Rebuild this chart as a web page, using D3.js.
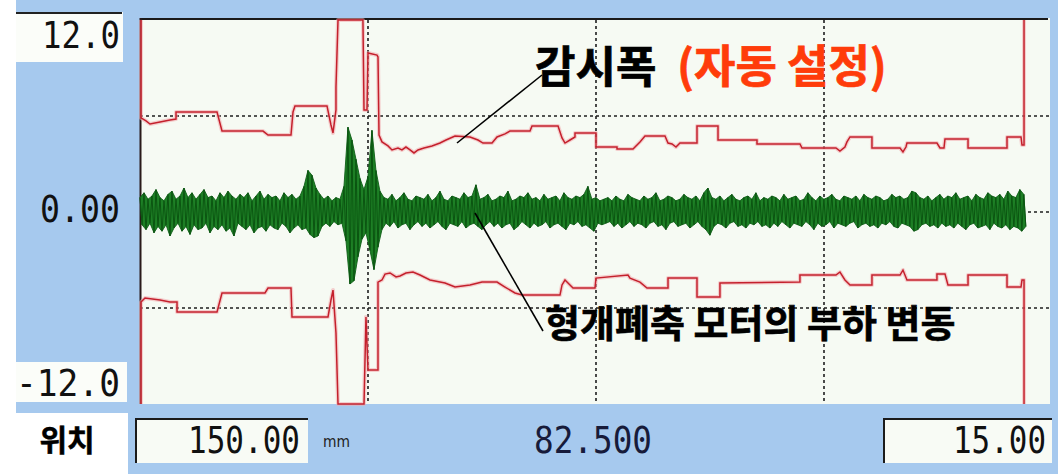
<!DOCTYPE html>
<html>
<head>
<meta charset="utf-8">
<script src="https://cdn.jsdelivr.net/npm/d3@7"></script>
<style>
  html, body { margin: 0; padding: 0; background: #ffffff; }
  svg { display: block; }
</style>
</head>
<body>
<svg id="chart" width="1058" height="474"></svg>
<script>
// Position axis (mm): 150 at the left edge, 15 at the right edge
const positionDomain = [150, 15];
const loadDomain = [-12, 12];

// Tick labels
const yTickValues = [12, 0, -12];
const yTickLabels = ["12.0", "0.00", "-12.0"];
const xTickLabels = ["150.00", "82.500", "15.00"];
const xUnit = "mm";

// Grid lines
const xGridValues = [116.25, 82.5, 48.75];
const yGridValues = [6, 0, -6];

// Upper monitoring band [position mm, load]
const upperBand = [
  [149.85,12],[149.85,5.88],[149.11,5.69],[148.52,5.5],[147.04,5.63],[145.56,5.75],[144.67,5.81],
  [144.67,6.25],[138.60,6.25],[137.86,5.06],[131.79,5.06],[131.05,4.81],[127.65,4.81],[127.35,6.25],
  [127.06,6.63],[122.32,6.63],[121.73,5.44],[121.43,4.94],[120.99,6.38],[120.99,7.81],[120.69,12],
  [117.00,12],[116.84,6.38],[116.40,6.38],[116.25,9.94],[114.92,9.81],[114.77,9.69],[114.62,4.81],
  [114.18,4.38],[113.29,4.13],[112.70,3.88],[111.81,4.0],[111.22,3.88],[110.63,4.06],[110.03,3.88],
  [109.44,3.69],[108.85,3.88],[107.96,4.0],[106.78,4.13],[105.59,4.31],[104.70,4.5],[103.37,4.75],
  [101.15,4.69],[99.97,4.5],[99.23,4.31],[97.89,4.31],[97.15,4.69],[95.97,4.88],[95.23,5.06],
  [92.27,5.06],[91.97,5.38],[88.12,5.38],[87.53,4.63],[87.09,4.31],[86.35,4.5],[85.61,4.69],
  [85.61,4.94],[82.50,4.94],[82.50,4.06],[79.39,4.06],[79.39,3.94],[77.02,3.94],[75.99,4.38],
  [75.25,4.75],[72.29,4.75],[71.84,4.31],[71.25,4.25],[70.66,4.06],[70.07,4.31],[67.55,4.31],
  [67.55,5.38],[64.44,5.38],[64.44,4.5],[58.67,4.5],[58.67,4.25],[52.31,4.25],[52.01,4.0],
  [46.98,4.0],[46.39,3.81],[45.65,4.06],[45.35,4.38],[44.90,4.69],[41.65,4.69],[41.65,4.0],
  [37.50,4.0],[37.06,3.75],[36.62,4.06],[36.47,4.31],[32.03,4.31],[31.58,4.0],[30.99,4.0],
  [30.84,4.56],[27.43,4.56],[27.43,4.0],[21.66,4.0],[21.66,4.69],[19.59,4.69],[19.44,4.19],
  [19.14,4.19],[19.14,12]
];

// Lower monitoring band [position mm, load]
const lowerBand = [
  [149.85,-12],[149.85,-5.63],[149.26,-5.38],[147.04,-5.5],[145.56,-5.63],[144.52,-5.63],
  [144.52,-6.25],[138.60,-6.25],[137.86,-5.06],[131.50,-5.06],[131.05,-4.75],[127.65,-4.75],
  [127.50,-6.56],[122.17,-6.56],[121.73,-5.5],[121.43,-4.88],[120.99,-7.56],[120.69,-12],
  [116.84,-12],[116.55,-6.56],[116.25,-9.88],[114.77,-9.88],[114.77,-4.38],[114.18,-4.25],
  [113.73,-3.88],[112.99,-3.81],[112.10,-4.06],[111.51,-4.0],[110.63,-3.81],[109.59,-3.75],
  [108.55,-3.94],[107.07,-4.25],[104.85,-4.44],[103.37,-4.69],[101.15,-4.56],[99.38,-4.38],
  [97.15,-4.38],[95.97,-4.69],[94.49,-5.06],[93.45,-5.19],[87.83,-5.19],[87.53,-4.56],
  [87.09,-4.25],[86.35,-4.56],[85.90,-4.75],[82.65,-4.75],[82.50,-4.13],[77.76,-3.94],
  [77.47,-4.13],[75.99,-4.38],[74.95,-4.75],[71.84,-4.75],[71.84,-4.13],[67.55,-4.13],
  [67.55,-5.31],[64.15,-5.31],[64.15,-4.44],[52.31,-4.38],[52.31,-3.94],[46.98,-3.94],
  [46.39,-3.75],[45.65,-4.25],[44.90,-4.56],[41.65,-4.56],[41.65,-3.94],[37.50,-3.94],
  [37.06,-3.63],[36.47,-4.25],[32.03,-4.25],[32.03,-3.88],[30.84,-3.88],[30.40,-4.56],
  [27.43,-4.56],[27.43,-3.94],[21.66,-3.94],[21.66,-4.69],[19.59,-4.69],[19.44,-4.25],
  [19.14,-4.25],[19.14,-12]
];

// Motor load trace: successive peaks and troughs, one pair per sampling pitch
const traceStartMm = 150;
const tracePitchMm = 0.592;
const tracePeaks = [
  0.9,1.2,0.8,1.0,1.4,0.9,0.7,1.1,1.3,0.8,
  1.0,1.5,0.9,1.2,0.8,1.1,1.4,0.9,1.0,0.7,
  1.2,0.9,1.3,1.0,0.8,1.1,0.9,1.2,0.7,1.0,
  1.3,0.8,1.1,0.9,1.0,0.7,1.2,0.9,1.1,0.8,
  1.0,1.6,2.6,2.3,1.5,1.1,0.8,1.0,0.7,0.9,
  0.8,1.6,5.3,4.5,3.3,2.1,1.4,2.2,5.1,2.6,
  1.3,
  0.9,0.8,1.1,0.7,0.9,1.2,0.8,0.7,1.0,0.9,
  0.8,1.1,0.7,0.9,1.3,0.8,0.7,1.0,0.9,0.8,
  1.2,0.9,1.0,1.7,0.8,0.9,1.1,0.7,0.8,1.0,
  0.9,1.3,0.7,0.8,1.0,0.9,1.2,0.8,0.9,0.7,
  1.1,0.8,0.9,1.0,0.7,1.2,0.9,0.8,1.0,0.9,
  1.1,1.6,0.8,0.9,0.7,
  0.8,0.9,0.7,1.0,0.8,0.7,1.1,0.9,0.8,0.7,
  1.0,0.8,0.9,1.2,0.7,0.8,1.0,0.9,0.7,0.8,
  1.1,0.9,0.8,1.0,0.7,1.2,1.5,0.9,0.8,1.0,
  0.7,0.9,1.1,0.8,0.7,0.9,1.0,0.8,1.2,0.7,
  0.9,0.8,1.0,0.9,0.7,1.1,0.8,0.9,1.0,0.7,
  0.8,1.2,0.9,0.7,1.0,0.8,0.9,1.1,0.8,0.7,
  1.0,0.9,0.8,1.0,0.7,1.1,0.9,0.8,1.0,0.9,
  0.7,0.8,1.1,0.9,1.0,0.8,0.9,1.3,1.2,0.9,
  0.8,1.0,0.7,0.9,1.1,0.8,1.0,0.9,1.2,0.8,
  0.9,1.0,0.7,1.1,0.9,0.8,1.2,1.0,0.9,1.1,
  0.8,1.3,1.0,0.9,1.4,1.1
];
const traceTroughs = [
  -0.8,-1.1,-0.7,-1.3,-0.9,-1.2,-0.8,-1.5,-1.0,-0.7,
  -1.2,-0.9,-1.4,-0.8,-1.1,-1.0,-0.7,-1.3,-0.9,-1.1,
  -0.8,-1.2,-1.0,-1.5,-0.7,-0.9,-1.1,-0.8,-1.3,-1.0,
  -0.9,-1.2,-0.8,-1.0,-1.1,-0.7,-0.9,-1.3,-1.0,-0.8,
  -1.1,-1.0,-1.4,-1.6,-1.5,-0.9,-0.7,-0.9,-0.6,-0.8,
  -0.7,-1.8,-4.5,-4.3,-2.8,-1.7,-1.3,-2.4,-3.6,-2.2,
  -1.1,
  -0.7,-0.9,-0.6,-1.0,-0.8,-0.7,-1.1,-0.8,-0.6,-0.9,
  -0.7,-1.0,-0.8,-0.6,-0.9,-1.1,-0.7,-0.8,-0.9,-0.6,
  -1.0,-0.8,-0.7,-0.9,-1.1,-0.8,-0.6,-0.9,-0.7,-1.0,
  -0.8,-0.7,-1.1,-0.9,-0.6,-0.8,-1.0,-0.7,-0.9,-0.8,
  -0.6,-1.0,-0.8,-0.7,-0.9,-1.1,-0.7,-0.8,-0.6,-0.9,
  -0.8,-1.0,-1.2,-0.7,-0.8,
  -0.7,-0.6,-0.9,-0.7,-1.0,-0.8,-0.6,-0.9,-0.7,-0.8,
  -1.0,-0.7,-0.6,-0.9,-0.8,-1.1,-0.7,-0.6,-0.9,-0.8,
  -0.7,-1.0,-0.8,-0.6,-0.9,-1.1,-1.45,-0.9,-0.7,-0.8,
  -1.0,-0.7,-0.6,-0.9,-0.8,-1.0,-0.7,-0.8,-0.6,-0.9,
  -0.8,-1.0,-0.7,-0.9,-0.6,-0.8,-1.0,-0.7,-0.8,-0.9,
  -0.6,-0.8,-1.1,-0.7,-0.9,-0.8,-0.6,-1.0,-0.7,-0.8,
  -0.9,-0.7,-0.6,-1.0,-0.8,-0.7,-0.9,-0.8,-1.0,-0.7,
  -0.8,-0.6,-0.9,-1.0,-0.7,-0.8,-0.9,-1.2,-1.1,-0.8,
  -0.7,-0.9,-0.8,-1.0,-0.7,-0.9,-0.8,-1.0,-0.7,-0.9,
  -1.1,-0.8,-0.7,-1.0,-0.9,-0.8,-1.1,-0.7,-0.9,-1.0,
  -0.8,-1.1,-0.9,-1.0,-1.2,-0.9
];

// Callout texts
const bandTitle = "감시폭";
const bandNote = "(자동 설정)";
const traceTitle = "형개폐축 모터의 부하 변동";
const positionLabel = "위치";

const svg = d3.select("#chart");
const W = 1058, H = 474;

const x = d3.scaleLinear().domain(positionDomain).range([140, 1052]);
const y = d3.scaleLinear().domain(loadDomain).range([404, 20]);

// Panel background
svg.append("rect").attr("x", 16).attr("y", 0).attr("width", W - 16).attr("height", H)
  .attr("fill", "#a6c9ee");

// Plot area
svg.append("rect").attr("x", x(150)).attr("y", y(12) - 2)
  .attr("width", x(15) - x(150) - 2).attr("height", y(-12) - y(12) + 2)
  .attr("fill", "#f6faf3");
svg.append("line").attr("x1", x(150)).attr("x2", x(15) - 4)
  .attr("y1", y(12) - 1).attr("y2", y(12) - 1)
  .attr("stroke", "#1a1a1a").attr("stroke-width", 2);
svg.append("line").attr("x1", x(150) + 0.5).attr("x2", x(150) + 0.5)
  .attr("y1", y(12) - 2).attr("y2", y(-12))
  .attr("stroke", "#2a1a1a").attr("stroke-width", 2);

// Grid
const grid = svg.append("g").attr("stroke", "#1e1e1e").attr("stroke-width", 1.6)
  .attr("stroke-dasharray", "3,3");
grid.selectAll("line.h").data(yGridValues).join("line").attr("class", "h")
  .attr("x1", x(150)).attr("x2", x(15) - 2)
  .attr("y1", d => y(d)).attr("y2", d => y(d));
grid.selectAll("line.v").data(xGridValues).join("line").attr("class", "v")
  .attr("x1", d => x(d)).attr("x2", d => x(d))
  .attr("y1", y(12)).attr("y2", y(-12));

// Monitoring band
const bandLine = d3.line().x(d => x(d[0])).y(d => y(d[1]));
[upperBand, lowerBand].forEach(band => {
  svg.append("path").attr("d", bandLine(band)).attr("fill", "none")
    .attr("stroke", "#f2a9ad").attr("stroke-width", 4).attr("stroke-opacity", 0.55)
    .attr("stroke-linejoin", "round");
  svg.append("path").attr("d", bandLine(band)).attr("fill", "none")
    .attr("stroke", "#c4202c").attr("stroke-width", 1.5);
});

// Motor load trace
const peakPoints = tracePeaks.map((p, i) => [traceStartMm - i * tracePitchMm, p]);
const troughPoints = traceTroughs.map((t, i) => [traceStartMm - (i + 0.5) * tracePitchMm, t]);
const tracePoints = [];
peakPoints.forEach((p, i) => { tracePoints.push(p); tracePoints.push(troughPoints[i]); });

// filled body between the crests and the troughs
svg.append("path")
  .attr("d", bandLine(peakPoints.concat(troughPoints.slice().reverse())) + "Z")
  .attr("fill", "#1d7f25").attr("stroke", "#0f5e16").attr("stroke-width", 0.9)
  .attr("stroke-linejoin", "miter");
// the oscillation itself
svg.append("path").attr("d", bandLine(tracePoints)).attr("fill", "none")
  .attr("stroke", "#0b5511").attr("stroke-width", 1).attr("stroke-linejoin", "miter");

// Callouts
svg.append("line").attr("x1", 457).attr("y1", 143).attr("x2", 542).attr("y2", 75)
  .attr("stroke", "#000").attr("stroke-width", 1.6);
svg.append("line").attr("x1", 475).attr("y1", 213).attr("x2", 543).attr("y2", 331)
  .attr("stroke", "#000").attr("stroke-width", 1.6);

const cjk = "'Noto Sans CJK KR', 'Noto Sans CJK SC', sans-serif";
svg.append("text").attr("x", 535).attr("y", 83).text(bandTitle)
  .attr("font-family", cjk).attr("font-weight", 700).attr("font-size", 44).attr("fill", "#000")
  .attr("stroke", "#000").attr("stroke-width", 0.7);
svg.append("text").attr("x", 677).attr("y", 83).text(bandNote)
  .attr("font-family", cjk).attr("font-weight", 700).attr("font-size", 45).attr("fill", "#ff3c0a")
  .attr("stroke", "#ff3c0a").attr("stroke-width", 0.7);
svg.append("text").attr("x", 545).attr("y", 337).text(traceTitle)
  .attr("font-family", cjk).attr("font-weight", 700).attr("font-size", 38).attr("fill", "#000")
  .attr("stroke", "#000").attr("stroke-width", 0.6);

// Load scale boxes
const mono = "'DejaVu Sans Mono', monospace";
svg.append("rect").attr("x", 16).attr("y", 12).attr("width", 107).attr("height", 50).attr("fill", "#fbfdf9");
svg.append("line").attr("x1", 16).attr("x2", 122).attr("y1", 13).attr("y2", 13)
  .attr("stroke", "#222").attr("stroke-width", 2);
svg.append("rect").attr("x", 16).attr("y", 362).attr("width", 111).attr("height", 40).attr("fill", "#fbfdf9");

// Narrow display digits: each label is squeezed horizontally to its field width
function readout(label, left, baseline, width, fill) {
  const g = svg.append("g");
  const t = g.append("text").attr("x", 0).attr("y", 0)
    .attr("font-family", mono).attr("font-size", 37).attr("fill", fill).text(label);
  const natural = t.node().getComputedTextLength();
  g.attr("transform", `translate(${left},${baseline}) scale(${width / natural},1)`);
}

const yLabelOffsets = [28, 10, -8];
const yLabelLengths = [78, 80, 104];
yTickValues.forEach((v, i) => {
  readout(yTickLabels[i], 120 - yLabelLengths[i], y(v) + yLabelOffsets[i], yLabelLengths[i], "#111");
});

// Position row
svg.append("rect").attr("x", 16).attr("y", 413).attr("width", 112).attr("height", H - 413).attr("fill", "#ffffff");
svg.append("text").attr("x", 67).attr("y", 451).attr("text-anchor", "middle").text(positionLabel)
  .attr("font-family", cjk).attr("font-weight", 700).attr("font-size", 30).attr("fill", "#000")
  .attr("stroke", "#000").attr("stroke-width", 0.5);

function sunkenBox(x0, x1) {
  svg.append("rect").attr("x", x0).attr("y", 418).attr("width", x1 - x0).attr("height", 45).attr("fill", "#f8fbf5");
  svg.append("path").attr("d", `M${x0 + 1},463 V${419} H${x1}`).attr("fill", "none")
    .attr("stroke", "#1b1b1b").attr("stroke-width", 2);
}
sunkenBox(135, 308);
sunkenBox(883, 1052);

const xLabelPos = [
  { x: 188, len: 112, fill: "#111" },
  { x: 534, len: 118, fill: "#171b3a" },
  { x: 953, len: 93, fill: "#111" }
];
xTickLabels.forEach((lab, i) => {
  readout(lab, xLabelPos[i].x, 453, xLabelPos[i].len, xLabelPos[i].fill);
});

svg.append("text").attr("x", 323).attr("y", 447).text(xUnit)
  .attr("font-family", "'DejaVu Sans', sans-serif").attr("font-size", 16)
  .attr("textLength", 27).attr("lengthAdjust", "spacingAndGlyphs").attr("fill", "#222");
</script>
</body>
</html>
